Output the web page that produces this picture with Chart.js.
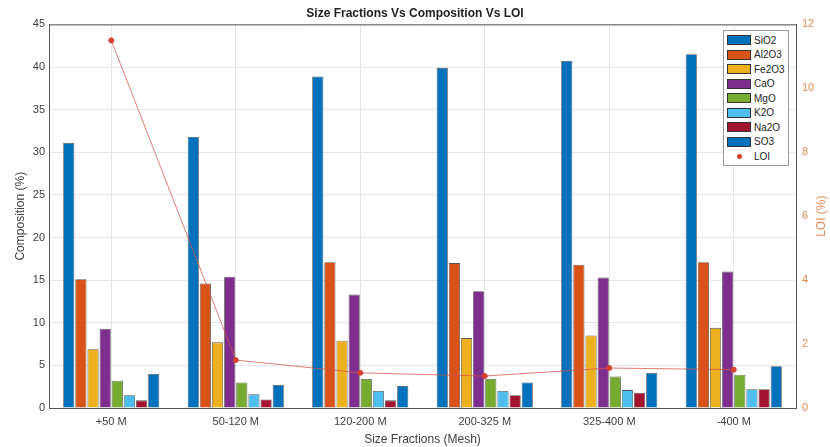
<!DOCTYPE html>
<html>
<head>
<meta charset="utf-8">
<script src="https://cdn.jsdelivr.net/npm/chart.js@4.4.1/dist/chart.umd.min.js"></script>
<style>
  html, body { margin: 0; padding: 0; background: #fff; }
  #wrap { position: relative; width: 830px; height: 447px; }
  #legend {
    position: absolute; left: 723px; top: 30px; width: 66px;
    background: #fff; border: 1px solid #9a9a9a;
    font: 10px "Liberation Sans", Arial, sans-serif; color: #222;
    padding: 2px 0 1px 0; box-sizing: border-box;
  }
  .item { display: flex; align-items: center; height: 14.5px; }
  .patch { width: 24px; height: 10px; margin: 0 3px 0 3px; box-sizing: border-box; border: 1px solid #333; }
  .dot { width: 24px; height: 10px; margin: 0 3px 0 3px; display: flex; align-items: center; justify-content: center; }
  .dot span { width: 5px; height: 5px; border-radius: 50%; display: block; }
</style>
</head>
<body>
<div id="wrap">
  <canvas id="chart" width="830" height="447"></canvas>
  <div id="legend"></div>
</div>
<script>
// ---- data ----
const sizeFractions = ["+50 M", "50-120 M", "120-200 M", "200-325 M", "325-400 M", "-400 M"];
const oxides = ["SiO2", "Al2O3", "Fe2O3", "CaO", "MgO", "K2O", "Na2O", "SO3"];
const sio2  = [31.1, 31.8, 38.9, 39.9, 40.7, 41.5];
const al2o3 = [15.1, 14.6, 17.1, 17.0, 16.8, 17.1];
const fe2o3 = [6.9, 7.7, 7.9, 8.2, 8.5, 9.4];
const cao   = [9.3, 15.4, 13.3, 13.7, 15.3, 16.0];
const mgo   = [3.2, 3.0, 3.4, 3.4, 3.7, 3.9];
const k2o   = [1.5, 1.6, 2.0, 2.0, 2.1, 2.2];
const na2o  = [0.9, 1.0, 0.9, 1.5, 1.8, 2.2];
const so3   = [4.0, 2.7, 2.6, 3.0, 4.1, 4.9];
const loi   = [11.5, 1.5, 1.1, 1.0, 1.25, 1.2];
const compTicks = [0, 5, 10, 15, 20, 25, 30, 35, 40, 45];
const loiTicks = [0, 2, 4, 6, 8, 10, 12];

const seriesValues = [sio2, al2o3, fe2o3, cao, mgo, k2o, na2o, so3];
const colors = ["#0072BD", "#D95319", "#EDB120", "#7E2F8E", "#77AC30", "#4DBEEE", "#A2142F", "#0072BD"];
const FONT = "'Liberation Sans', Arial, sans-serif";

const datasets = oxides.map((name, i) => ({
  type: "bar",
  label: name,
  data: seriesValues[i],
  backgroundColor: colors[i],
  borderColor: "rgba(30,30,30,0.75)",
  borderWidth: 0.8,
  categoryPercentage: 0.78,
  barPercentage: 0.92,
  yAxisID: "y",
  order: 2
}));

datasets.push({
  type: "line",
  label: "LOI",
  data: loi,
  yAxisID: "y2",
  borderColor: "rgba(215,80,70,0.75)",
  borderWidth: 1,
  pointBackgroundColor: "#d8402e",
  pointBorderColor: "#d8402e",
  pointRadius: 2.5,
  tension: 0,
  order: 0
});

// top edge of the plot box + right-hand title reading bottom-to-top
const frame = {
  id: "frame",
  afterDraw(chart) {
    const { ctx, chartArea: a } = chart;
    ctx.save();
    ctx.strokeStyle = "#555";
    ctx.lineWidth = 1;
    ctx.beginPath();
    ctx.moveTo(a.left, a.top + 0.5);
    ctx.lineTo(a.right, a.top + 0.5);
    ctx.stroke();
    ctx.translate(822, (a.top + a.bottom) / 2);
    ctx.rotate(-Math.PI / 2);
    ctx.fillStyle = "#df8a55";
    ctx.font = "12px " + FONT;
    ctx.textAlign = "center";
    ctx.textBaseline = "middle";
    ctx.fillText("LOI (%)", 0, 0);
    ctx.restore();
  }
};

const chart = new Chart(document.getElementById("chart"), {
  data: { labels: sizeFractions, datasets },
  options: {
    responsive: false,
    animation: false,
    layout: { padding: 0 },
    plugins: {
      legend: { display: false },
      tooltip: { enabled: false },
      title: {
        display: true,
        text: "Size Fractions Vs Composition Vs LOI",
        color: "#222",
        font: { family: FONT, size: 12, weight: "bold" },
        padding: { top: 6, bottom: 4 }
      }
    },
    scales: {
      x: {
        type: "category",
        offset: true,
        grid: { offset: false, color: "#e6e6e6", drawTicks: false },
        border: { color: "#555" },
        ticks: { color: "#404040", font: { family: FONT, size: 11 }, padding: 7, maxRotation: 0 },
        title: {
          display: true, text: "Size Fractions (Mesh)", color: "#404040",
          font: { family: FONT, size: 12 }, padding: { top: 3, bottom: 0 }
        },
        afterFit(s) { s.height = 39; }
      },
      y: {
        position: "left",
        min: 0, max: 45,
        afterBuildTicks(s) { s.ticks = compTicks.map(v => ({ value: v })); },
        grid: { color: "#e6e6e6", drawTicks: false },
        border: { color: "#555" },
        ticks: { color: "#404040", font: { family: FONT, size: 11 }, padding: 4 },
        title: {
          display: true, text: "Composition (%)", color: "#404040",
          font: { family: FONT, size: 12 }, padding: { top: 13, bottom: 0 }
        },
        afterFit(s) { s.width = 49; }
      },
      y2: {
        position: "right",
        min: 0, max: 12,
        afterBuildTicks(s) { s.ticks = loiTicks.map(v => ({ value: v })); },
        grid: { drawOnChartArea: false, drawTicks: false },
        border: { color: "#555" },
        ticks: { color: "#df8a55", font: { family: FONT, size: 11 }, padding: 6 },
        afterFit(s) { s.width = 34; }
      }
    }
  },
  plugins: [frame]
});

// legend built from the chart's own datasets
const legend = document.getElementById("legend");
chart.data.datasets.forEach(ds => {
  const row = document.createElement("div");
  row.className = "item";
  if (ds.type === "line") {
    row.innerHTML = `<div class="dot"><span style="background:${ds.pointBackgroundColor}"></span></div><div>${ds.label}</div>`;
  } else {
    row.innerHTML = `<div class="patch" style="background:${ds.backgroundColor}"></div><div>${ds.label}</div>`;
  }
  legend.appendChild(row);
});
</script>
</body>
</html>
